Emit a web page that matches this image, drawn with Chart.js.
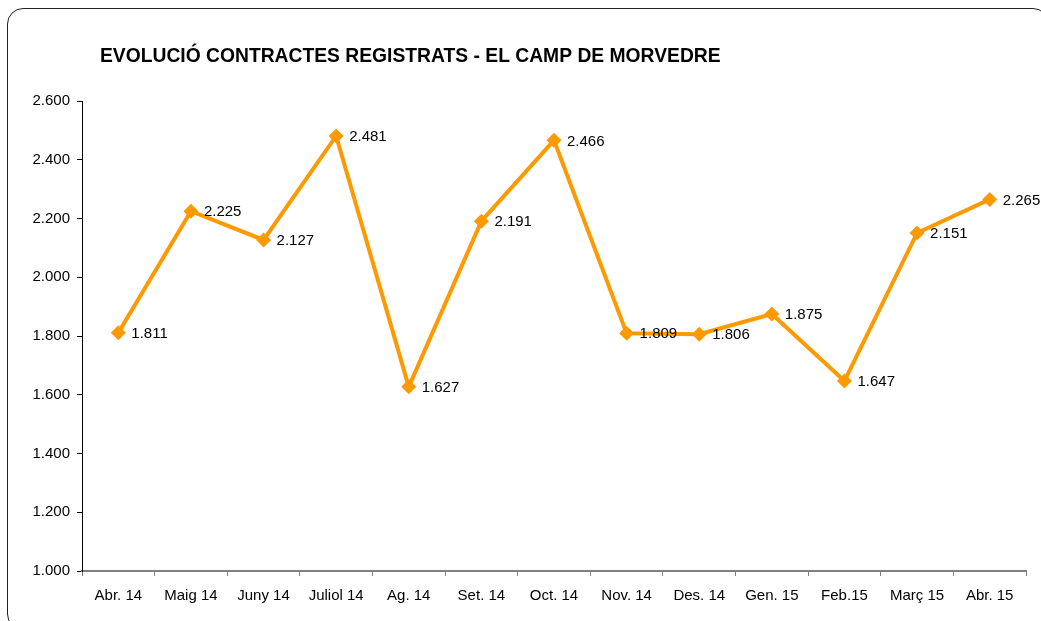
<!DOCTYPE html>
<html>
<head>
<meta charset="utf-8">
<script src="https://cdn.jsdelivr.net/npm/chart.js@4/dist/chart.umd.min.js"></script>
<style>
  html, body { margin: 0; padding: 0; overflow: hidden; background: #fff; }
  #marc {
    position: absolute; left: 7px; top: 8px; width: 1042px; height: 622px;
    border: 1.5px solid #222; border-radius: 16px; box-sizing: border-box;
  }
  #wrap { position: absolute; left: 0; top: 0; width: 1041px; height: 621px; }
</style>
</head>
<body>
<div id="marc"></div>
<div id="wrap"><canvas id="grafic" width="1041" height="621"></canvas></div>
<script>
const titol = 'EVOLUCIÓ CONTRACTES REGISTRATS - EL CAMP DE MORVEDRE';
const mesos = ['Abr. 14', 'Maig 14', 'Juny 14', 'Juliol 14', 'Ag. 14', 'Set. 14', 'Oct. 14',
               'Nov. 14', 'Des. 14', 'Gen. 15', 'Feb.15', 'Març 15', 'Abr. 15'];
const contractes = [1811, 2225, 2127, 2481, 1627, 2191, 2466, 1809, 1806, 1875, 1647, 2151, 2265];
const eixMin = 1000;
const eixMax = 2600;
const pas = 200;

function ambPunts(n) {
    return String(Math.round(n)).replace(/\B(?=(\d{3})+(?!\d))/g, '.');
}

const FONT = 'Arial, "Liberation Sans", sans-serif';

// etiquetes de valor a la dreta de cada punt
const etiquetes = {
    id: 'etiquetes',
    afterDatasetsDraw(chart) {
        const ctx = chart.ctx;
        const meta = chart.getDatasetMeta(0);
        ctx.save();
        ctx.font = '15px ' + FONT;
        ctx.fillStyle = '#000';
        ctx.textAlign = 'left';
        ctx.textBaseline = 'middle';
        meta.data.forEach((p, i) => {
            ctx.fillText(ambPunts(contractes[i]), p.x + 13, p.y + 1);
        });
        ctx.restore();
    }
};

const titolPlugin = {
    id: 'titol',
    afterDraw(chart) {
        const ctx = chart.ctx;
        ctx.save();
        ctx.font = 'bold 19.3px ' + FONT;
        ctx.fillStyle = '#000';
        ctx.textBaseline = 'middle';
        ctx.fillText(titol, 100, 57);
        ctx.restore();
    }
};

const ctx = document.getElementById('grafic').getContext('2d');

new Chart(ctx, {
    type: 'line',
    data: {
        labels: mesos,
        datasets: [{
            data: contractes,
            borderColor: '#FF9900',
            backgroundColor: '#FF9900',
            borderWidth: 4,
            pointStyle: 'rectRot',
            pointRadius: 7.5,
            pointHoverRadius: 7.5,
            pointBorderWidth: 0,
            tension: 0
        }]
    },
    options: {
        responsive: false,
        animation: false,
        layout: { padding: { top: 101, right: 15, left: 0, bottom: 0 } },
        plugins: {
            legend: { display: false },
            title: { display: false },
            tooltip: { enabled: false }
        },
        scales: {
            x: {
                offset: true,
                grid: {
                    offset: true,
                    drawOnChartArea: false,
                    color: '#808080',
                    tickLength: 5
                },
                border: { color: '#808080', width: 2 },
                ticks: {
                    color: '#000',
                    font: { family: FONT, size: 15 },
                    padding: 11,
                    maxRotation: 0,
                    autoSkip: false
                },
                afterFit(scale) { scale.height = 50; }
            },
            y: {
                min: eixMin,
                max: eixMax,
                grid: {
                    drawOnChartArea: false,
                    color: '#000',
                    tickLength: 5
                },
                border: { color: '#000', width: 1 },
                ticks: {
                    stepSize: pas,
                    color: '#000',
                    font: { family: FONT, size: 15 },
                    padding: 7,
                    callback: v => ambPunts(v)
                },
                afterFit(scale) { scale.width = 82; }
            }
        }
    },
    plugins: [etiquetes, titolPlugin]
});
</script>
</body>
</html>
